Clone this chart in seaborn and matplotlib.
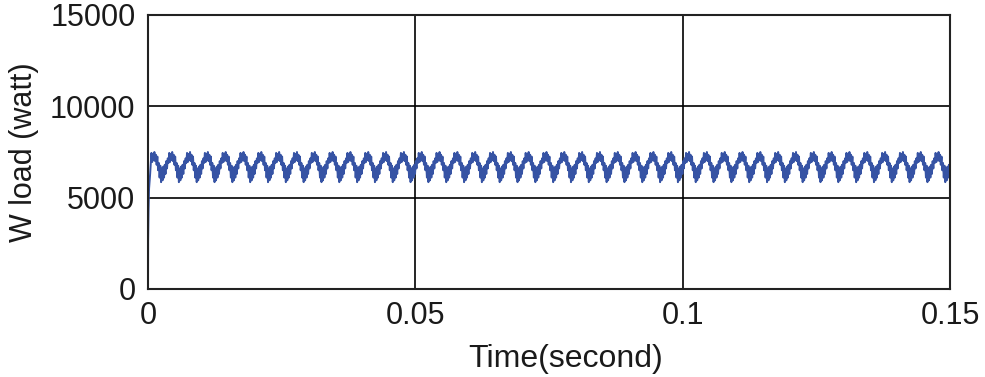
import numpy as np
import pandas as pd
import matplotlib
matplotlib.use("Agg")
import matplotlib.pyplot as plt
import seaborn as sns

# ---- data ----
# start-up transient (time in s, power in W)
startup_t = [0.0, 0.00002, 0.0001, 0.0002, 0.0003, 0.0004, 0.0005]
startup_w = [0.0, 2650.0, 4300.0, 5500.0, 5900.0, 6300.0, 6800.0]
# one ripple period (~1/300 s) of the steady-state load power
ripple_period = 1.0 / 300.0
ripple_shape = [6900, 7450, 6950, 7400, 7050, 7500, 7000, 7350, 6800, 7250,
                6500, 6900, 6100, 6750, 5850, 6600, 5950, 6700, 6100, 6800,
                6300, 7000, 6600, 7150]
t_end = 0.15

x_ticks = [0, 0.05, 0.1, 0.15]
x_tick_labels = ["0", "0.05", "0.1", "0.15"]
y_ticks = [0, 5000, 10000, 15000]
x_label = "Time(second)"
y_label = "W load (watt)"

# ---- build the trace ----
n_per = len(ripple_shape)
n_periods = int(np.ceil((t_end - startup_t[-1]) / ripple_period)) + 1
t_ss = startup_t[-1] + np.arange(n_periods * n_per) * (ripple_period / n_per)
w_ss = np.tile(ripple_shape, n_periods)
mask = t_ss <= t_end
df = pd.DataFrame({
    "t": np.concatenate([startup_t, t_ss[mask]]),
    "w": np.concatenate([startup_w, w_ss[mask]]),
})

sns.set_theme(style="white")
plt.rcParams["font.family"] = ["Liberation Sans", "DejaVu Sans"]

fig = plt.figure(figsize=(9.85, 3.77), dpi=100)
ax = fig.add_axes([148 / 985, 1 - 289 / 377, (950 - 148) / 985, (289 - 15) / 377])

sns.lineplot(data=df, x="t", y="w", ax=ax, color="#3653a4", linewidth=1.4,
             estimator=None, sort=False)

ax.set_xlim(0, 0.15)
ax.set_ylim(0, 15000)
ax.set_xticks(x_ticks)
ax.set_xticklabels(x_tick_labels)
ax.set_yticks(y_ticks)
ax.grid(True, color="black", linewidth=1.2)
ax.set_axisbelow(True)
for s in ax.spines.values():
    s.set_color("#222222")
    s.set_linewidth(1.5)
ax.tick_params(axis="both", length=0, labelsize=22, colors="#1a1a1a", pad=9)
ax.set_xlabel(x_label, fontsize=23, color="#1a1a1a", labelpad=6)
ax.xaxis.set_label_coords(0.521, -0.2, transform=ax.transAxes)
ax.xaxis.label.set_verticalalignment("top")
ax.set_ylabel(y_label, fontsize=22, color="#1a1a1a", labelpad=8)

fig.savefig("out.png", dpi=100)
